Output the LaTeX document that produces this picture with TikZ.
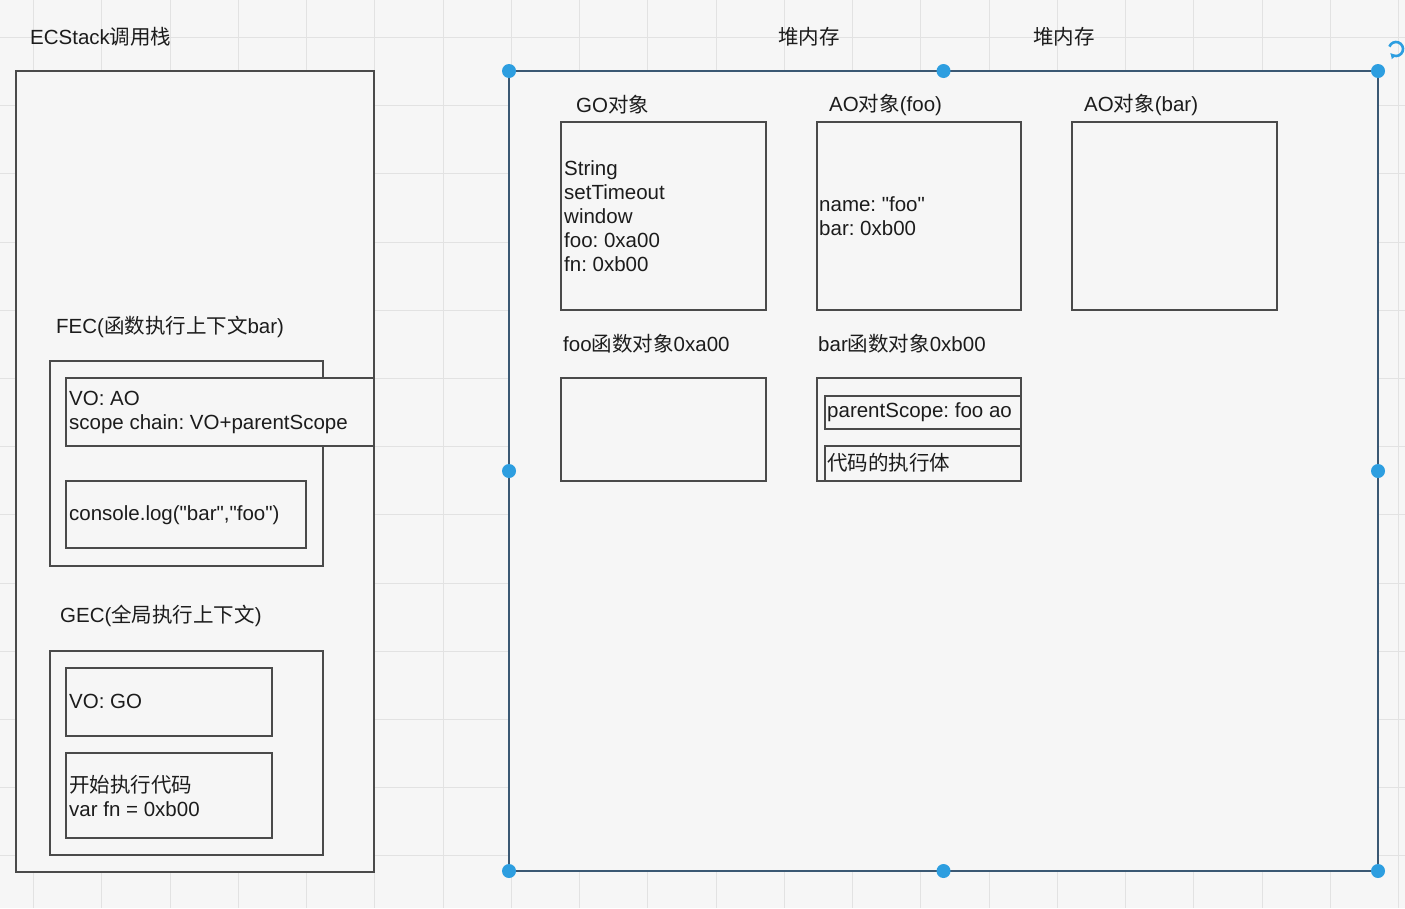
\documentclass[tikz,border=0pt]{standalone}
\usepackage{fontspec}
\setmainfont{Liberation Sans}[Ligatures=TeXOff]
\newfontfamily\cjkf{Noto Sans CJK SC}
\newcommand\zh[1]{{\cjkf #1}}
\usetikzlibrary{arrows.meta}
\definecolor{bg}{HTML}{F6F6F6}
\definecolor{gridc}{HTML}{E2E2E2}
\definecolor{boxline}{HTML}{4A4A4A}
\definecolor{heapline}{HTML}{3A5873}
\definecolor{selblue}{HTML}{2D9EE0}
\definecolor{textc}{HTML}{1C1C1C}
\frenchspacing
\begin{document}
\begin{tikzpicture}[x=1pt,y=-1pt,
  box/.style={draw=boxline, line width=2pt, fill=bg, anchor=north west, inner sep=0pt, outer sep=0pt},
  heapbox/.style={draw=heapline, line width=2.6pt, fill=bg, anchor=north west, inner sep=0pt, outer sep=0pt},
  txt/.style={anchor=west, inner sep=0pt, font=\fontsize{20.5}{24}\selectfont, text=textc, align=left},
  handle/.style={circle, fill=selblue, minimum size=14pt, inner sep=0pt}]
\useasboundingbox (0,0) rectangle (1405,908);
\fill[bg] (0,0) rectangle (1405,908);
% grid
\foreach \i in {0,...,20} \draw[gridc, line width=1pt] (33.5+68.25*\i,0) -- (33.5+68.25*\i,908);
\foreach \j in {0,...,12} \draw[gridc, line width=1pt] (0,37.5+68.2*\j) -- (1405,37.5+68.2*\j);

% call stack
\node[txt] (ecs) at (30,37) {ECStack\zh{调用栈}};
\node[box, minimum width=358pt, minimum height=801pt] (stack) at (16,71) {};
\node[txt] (feclbl) at (56,327) {FEC(\zh{函数执行上下文}bar)};
\node[box, minimum width=273pt, minimum height=205pt] (fecbox) at (50,361) {};
\node[box, minimum width=308pt, minimum height=68pt] (fecvo) at (66,378) {};
\node[txt] (fecvot) at (69,412.5) {VO: AO\\scope chain: VO+parentScope};
\node[box, minimum width=240pt, minimum height=67pt] (feccode) at (66,481) {};
\node[txt] (feccodet) at (69,515) {console.log("bar","foo")};
\node[txt] (geclbl) at (60,616) {GEC(\zh{全局执行上下文})};
\node[box, minimum width=273pt, minimum height=204pt] (gecbox) at (50,651) {};
\node[box, minimum width=206pt, minimum height=68pt] (gecvo) at (66,668) {};
\node[txt] (gecvot) at (69,701) {VO: GO};
\node[box, minimum width=206pt, minimum height=85pt] (geccode) at (66,753) {};
\node[txt] (geccodet) at (69,796) {\zh{开始执行代码}\\var fn = 0xb00};

% heap
\node[txt] (heap1) at (778,37) {\zh{堆内存}};
\node[txt] (heap2) at (1033,37) {\zh{堆内存}};
\node[heapbox, minimum width=869pt, minimum height=800pt] (heap) at (509,71) {};

\node[txt] (golbl) at (576,105) {GO\zh{对象}};
\node[txt] (aofoolbl) at (829,105) {AO\zh{对象}(foo)};
\node[txt] (aobarlbl) at (1084,105) {AO\zh{对象}(bar)};
\node[box, minimum width=205pt, minimum height=188pt] (goobj) at (561,122) {};
\node[txt] (goobjt) at (564,216) {String\\setTimeout\\window\\foo: 0xa00\\fn: 0xb00};
\node[box, minimum width=204pt, minimum height=188pt] (aofoo) at (817,122) {};
\node[txt] (aofoot) at (819,216) {name: "foo"\\bar: 0xb00};
\node[box, minimum width=205pt, minimum height=188pt] (aobar) at (1072,122) {};

\node[txt] (foofnlbl) at (563,344) {foo\zh{函数对象}0xa00};
\node[txt] (barfnlbl) at (818,344) {bar\zh{函数对象}0xb00};
\node[box, minimum width=205pt, minimum height=103pt] (foofn) at (561,378) {};
\node[box, minimum width=204pt, minimum height=103pt] (barfn) at (817,378) {};
\node[box, minimum width=196pt, minimum height=33pt] (barps) at (825,396) {};
\node[txt] (barpst) at (827,412) {parentScope: foo ao};
\node[box, minimum width=196pt, minimum height=35pt] (barcode) at (825,446) {};
\node[txt] (barcodet) at (827,463) {\zh{代码的执行体}};

% selection handles
\foreach \a in {north west,north,north east,east,south east,south,south west,west}
  \node[handle] at (heap.\a) {};
\draw[selblue, line width=2.6pt, -{Latex[length=5pt,width=6pt]}] (1396,49) ++(-160:7) arc[start angle=-160, end angle=140, radius=7];
\end{tikzpicture}
\end{document}
